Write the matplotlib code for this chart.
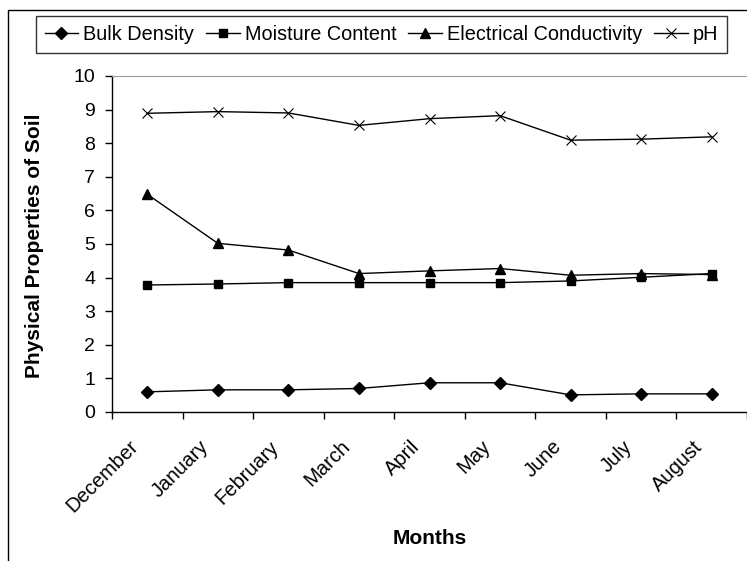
import numpy as np
import matplotlib
matplotlib.use('Agg')
import matplotlib.pyplot as plt
from matplotlib.patches import Rectangle
from matplotlib.transforms import ScaledTranslation

plt.rcParams['font.family'] = ['Liberation Sans', 'DejaVu Sans']

months = ['December', 'January', 'February', 'March', 'April', 'May',
          'June', 'July', 'August']
bulk_density = [0.60, 0.66, 0.66, 0.70, 0.87, 0.87, 0.51, 0.54, 0.54]
moisture = [3.78, 3.81, 3.85, 3.85, 3.85, 3.85, 3.90, 4.01, 4.12]
conductivity = [6.48, 5.02, 4.82, 4.12, 4.20, 4.27, 4.07, 4.12, 4.09]
ph = [8.89, 8.94, 8.90, 8.53, 8.73, 8.82, 8.09, 8.12, 8.19]

W, H = 747, 561
fig = plt.figure(figsize=(W / 100, H / 100), dpi=100)
ax = fig.add_axes([112 / W, 1 - 412 / H, (747 - 112) / W, (412 - 76) / H])

x = np.arange(len(months))
ax.plot(x, bulk_density, color='black', lw=1, marker='D', ms=6.5,
        label='Bulk Density')
ax.plot(x, moisture, color='black', lw=1, marker='s', ms=6,
        label='Moisture Content')
ax.plot(x, conductivity, color='black', lw=1, marker='^', ms=7.5,
        label='Electrical Conductivity')
ax.plot(x, ph, color='black', lw=1, marker='x', ms=7.5, mew=0.8,
        label='pH')

ax.set_xlim(-0.5, len(months) - 0.5)
ax.set_ylim(0, 10)
ax.set_yticks(range(0, 11))

# category labels, rotated like the Excel axis
ax.set_xticks([])
ax.set_xticks(np.arange(-0.5, len(months)), minor=True)
lab_tr = ax.get_xaxis_transform() + ScaledTranslation(-19 / 100, -25 / 100,
                                                      fig.dpi_scale_trans)
for i, m in enumerate(months):
    ax.text(i, 0, m, transform=lab_tr, rotation=45, ha='right', va='top',
            rotation_mode='anchor', fontsize=14.5)

ax.tick_params(axis='x', which='minor', length=5, width=1, direction='out')
ax.tick_params(axis='y', length=5, width=1, direction='out', pad=7,
               labelsize=14)

ax.spines['top'].set_color('#999999')
ax.spines['right'].set_visible(False)
ax.spines['left'].set_linewidth(1)
ax.spines['bottom'].set_linewidth(1)

ax.set_ylabel('Physical Properties of Soil', fontsize=15, fontweight='bold',
              va='center')
ax.yaxis.set_label_coords((35 - 112) / 635, 0.494)
ax.set_xlabel('Months', fontsize=15, fontweight='bold', va='center')
ax.xaxis.set_label_coords(0.5, (412 - 538) / 336)

leg = fig.legend(loc='upper center', ncol=4,
                 bbox_to_anchor=((35 + 728) / 2 / W, 1 - 16 / H),
                 fontsize=14.3, frameon=True, fancybox=False,
                 handlelength=1.7, handletextpad=0.25, columnspacing=0.6,
                 borderpad=0.45, borderaxespad=0)
leg.get_frame().set_edgecolor('black')
leg.get_frame().set_linewidth(1)

fig.patches.append(Rectangle((8 / W, -0.1), 1.2, 1.1 - 10 / H,
                             transform=fig.transFigure, fill=False,
                             edgecolor='black', lw=1))

fig.savefig('out.png', dpi=100)
